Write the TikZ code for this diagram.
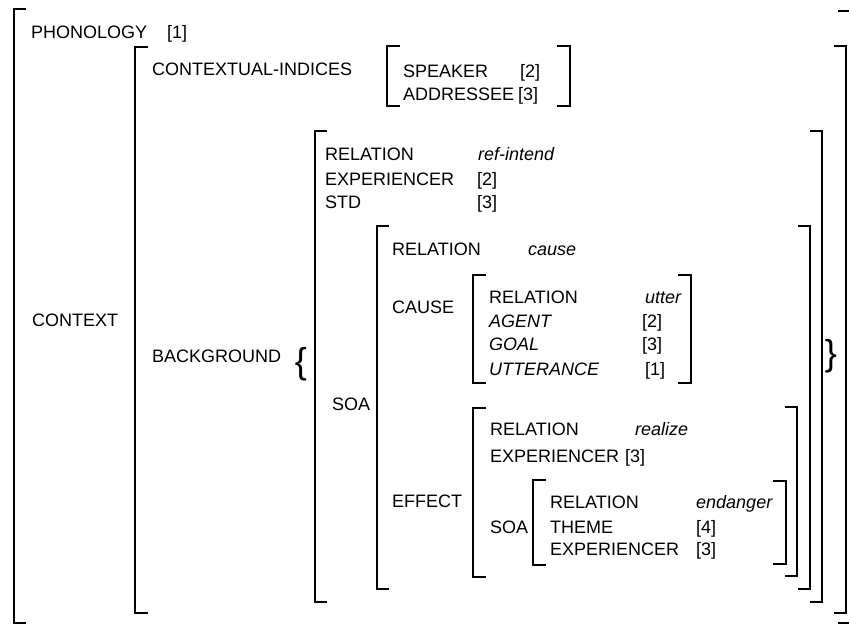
\documentclass[tikz,border=0pt]{standalone}
\usepackage{fontspec}
\setmainfont{Liberation Sans}
\usepackage{tikz}
\usetikzlibrary{positioning}

\begin{document}
\begin{tikzpicture}[
    x=1pt, y=-1pt,
    feat/.style={anchor=base west, inner sep=0pt, font=\fontsize{18}{20}\selectfont},
    val/.style={feat, font=\fontsize{18}{20}\selectfont\itshape},
    brace/.style={inner sep=0pt, font=\fontsize{36}{36}\selectfont},
    brk/.style={line width=1.3pt}
]
    \useasboundingbox (0,0) rectangle (849,625);

    % outer matrix
    \node[feat] (phon) at (31,38) {PHONOLOGY};
    \node[feat] (phonval) at (167,38) {[1]};
    \node[feat] (ctx) at (32,326) {CONTEXT};
    \draw[brk] (26,9) -| (14,623) -- ++(12,0);
    \draw[brk] (838,11) -| (850,623) -- ++(-12,0);

    % context
    \node[feat] (ctxind) at (152,75) {CONTEXTUAL-INDICES};
    \node[feat] (spk) at (403,77) {SPEAKER};
    \node[feat] (spkval) at (520,77) {[2]};
    \node[feat] (adr) at (403,100) {ADDRESSEE};
    \node[feat] (adrval) at (518,100) {[3]};
    \node[feat] (bg) at (152,362) {BACKGROUND};
    \node[brace] (lbrace) at (301,364) {\{};
    \node[brace] (rbrace) at (831,356) {\}};
    \draw[brk] (148,47) -| (135,613) -- ++(13,0);
    \draw[brk] (834,46) -| (846,613) -- ++(-12,0);
    \draw[brk] (400,46) -| (387,106) -- ++(13,0);
    \draw[brk] (557,46) -| (570,106) -- ++(-13,0);

    % background
    \node[feat] (bgrel) at (325,160) {RELATION};
    \node[val] (bgrelval) at (478,160) {ref-intend};
    \node[feat] (bgexp) at (325,185) {EXPERIENCER};
    \node[feat] (bgexpval) at (477,185) {[2]};
    \node[feat] (bgstd) at (325,208) {STD};
    \node[feat] (bgstdval) at (477,208) {[3]};
    \node[feat] (soa) at (332,410) {SOA};
    \draw[brk] (327,131) -| (315,602) -- ++(12,0);
    \draw[brk] (810,131) -| (822,602) -- ++(-12,0);

    % soa
    \node[feat] (soarel) at (392,255) {RELATION};
    \node[val] (soarelval) at (528,255) {cause};
    \node[feat] (cause) at (392,313) {CAUSE};
    \node[feat] (effect) at (392,507) {EFFECT};
    \draw[brk] (389,226) -| (377,589) -- ++(12,0);
    \draw[brk] (798,226) -| (810,589) -- ++(-12,0);

    % cause
    \node[feat] (crel) at (489,303) {RELATION};
    \node[val] (crelval) at (645,303) {utter};
    \node[val] (cagt) at (489,327) {AGENT};
    \node[feat] (cagtval) at (642,327) {[2]};
    \node[val] (cgoal) at (489,350) {GOAL};
    \node[feat] (cgoalval) at (642,350) {[3]};
    \node[val] (cutt) at (489,375) {UTTERANCE};
    \node[feat] (cuttval) at (645,375) {[1]};
    \draw[brk] (486,275) -| (473,383) -- ++(13,0);
    \draw[brk] (678,275) -| (691,383) -- ++(-13,0);

    % effect
    \node[feat] (erel) at (490,435) {RELATION};
    \node[val] (erelval) at (635,435) {realize};
    \node[feat] (eexp) at (490,462) {EXPERIENCER};
    \node[feat] (eexpval) at (625,462) {[3]};
    \node[feat] (esoa) at (490,533) {SOA};
    \draw[brk] (486,408) -| (473,577) -- ++(13,0);
    \draw[brk] (785,407) -| (797,576) -- ++(-12,0);

    % embedded soa
    \node[feat] (srel) at (550,508) {RELATION};
    \node[val] (srelval) at (696,508) {endanger};
    \node[feat] (sthm) at (550,533) {THEME};
    \node[feat] (sthmval) at (696,533) {[4]};
    \node[feat] (sexp) at (550,555) {EXPERIENCER};
    \node[feat] (sexpval) at (696,555) {[3]};
    \draw[brk] (546,480) -| (533,565) -- ++(13,0);
    \draw[brk] (773,481) -| (786,564) -- ++(-13,0);
\end{tikzpicture}
\end{document}
